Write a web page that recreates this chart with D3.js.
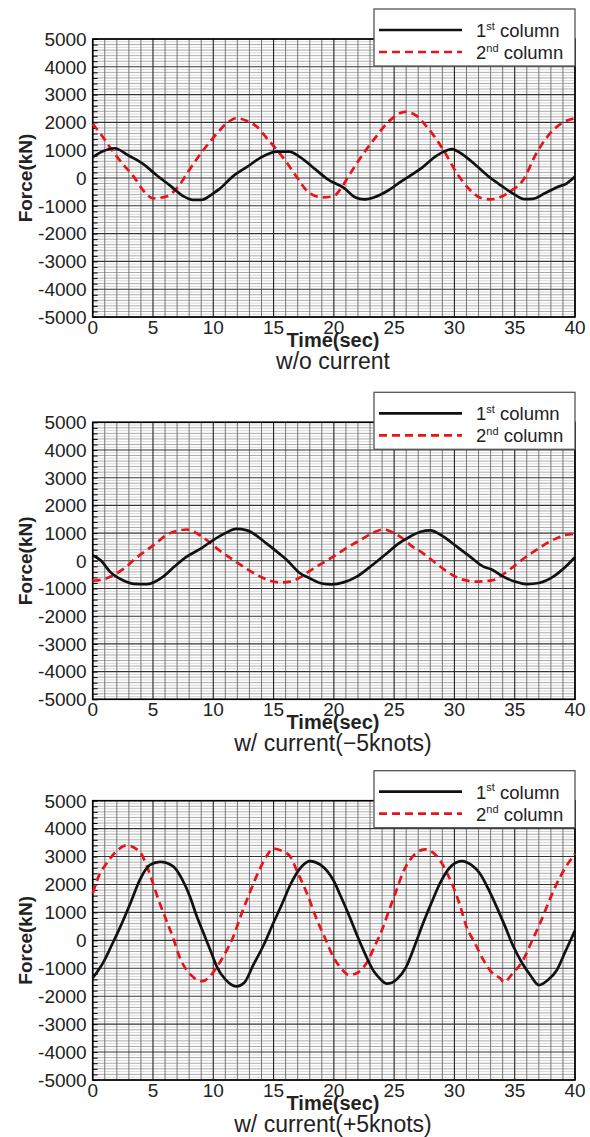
<!DOCTYPE html>
<html><head><meta charset="utf-8">
<script src="https://cdn.jsdelivr.net/npm/d3@7"></script>
<style>body{margin:0;background:#fff}svg{display:block}</style>
</head><body>
<svg id="c" width="590" height="1137"></svg>
<script>
// ---------- data ----------
const timeDomain = [0, 40];
const forceDomain = [-5000, 5000];
const xTickValues = [0, 5, 10, 15, 20, 25, 30, 35, 40];
const yTickValues = [-5000, -4000, -3000, -2000, -1000, 0, 1000, 2000, 3000, 4000, 5000];
const seriesNames = ["1st column", "2nd column"];
const subtitles = ["w/o current", "w/ current(\u22125knots)", "w/ current(+5knots)"];
const xAxisTitle = "Time(sec)";
const yAxisTitle = "Force(kN)";

// panel 1: w/o current  [time, force]
const col1NoCurrent = [[0,750],[0.8,950],[1.8,1070],[3,800],[4.2,500],[5.3,100],[6.5,-300],[7.5,-650],[8.3,-790],[9,-790],[10,-550],[10.5,-400],[11.6,50],[12.8,400],[14,750],[15.3,950],[16.3,950],[17.2,750],[18.5,300],[19.5,-50],[20.8,-350],[21.8,-700],[22.5,-770],[23.3,-700],[24.5,-450],[25.5,-150],[27.4,400],[28.5,800],[29.4,1000],[29.8,1040],[30.5,900],[31.8,450],[33,0],[34,-310],[35,-600],[35.8,-760],[36.5,-750],[37.5,-550],[38.5,-330],[39.3,-200],[40,50]];
const col2NoCurrent = [[0,1950],[0.8,1500],[1.6,1000],[2.5,500],[3.4,50],[4.2,-450],[5,-730],[6,-680],[7.2,-250],[7.8,150],[9,900],[10.3,1600],[11.2,2000],[11.9,2150],[12.8,2050],[13.6,1850],[14.5,1400],[15.3,1000],[16.1,550],[16.9,50],[18,-550],[19.1,-700],[20,-650],[20.5,-430],[21.2,50],[21.9,530],[23.3,1370],[24.7,2090],[25.9,2380],[26.8,2250],[27.7,1850],[29.1,1000],[30.2,170],[31.3,-430],[32.2,-720],[33,-770],[34,-650],[34.6,-490],[35.7,-70],[36.8,890],[38.2,1730],[39,2000],[40,2150]];

// panel 2: w/ current (-5 knots)
const col1Minus5 = [[0,200],[0.7,0],[1.43,-390],[2.5,-700],[3.5,-830],[4.5,-840],[5.85,-570],[6.8,-200],[7.8,150],[9,450],[10,750],[11,1000],[11.9,1150],[12.8,1100],[14.4,630],[15.5,250],[16.1,30],[17.2,-450],[18,-630],[19,-820],[19.8,-850],[20.8,-780],[21.9,-570],[23.2,-150],[24.4,270],[25.3,600],[26.3,870],[27.2,1050],[28,1100],[29,900],[30.2,510],[31.3,150],[32.4,-210],[33,-300],[34.05,-570],[35,-750],[36,-840],[37,-800],[38.2,-570],[39,-300],[40,130]];
const col2Minus5 = [[0,-720],[1.16,-630],[2,-450],[2.8,-210],[3.6,100],[4.5,390],[5.3,650],[6.1,930],[7,1080],[7.8,1130],[8.6,1000],[9.45,750],[10.5,380],[11.66,30],[12.8,-300],[13.9,-570],[14.7,-720],[15.5,-780],[16.4,-750],[17.2,-600],[17.7,-450],[18.8,-150],[19.95,150],[21,450],[22.2,750],[23.2,1000],[24.1,1130],[25,1000],[25.5,870],[26.4,550],[27.4,270],[28.5,-100],[29.6,-450],[30.7,-680],[31.8,-750],[33.2,-700],[34,-500],[34.9,-210],[35.8,100],[36.8,390],[37.6,620],[38.45,810],[39.2,930],[40,980]];

// panel 3: w/ current (+5 knots)
const col1Plus5 = [[0,-1350],[0.9,-770],[1.6,-150],[2.3,490],[3.1,1300],[3.9,2160],[4.75,2700],[5.6,2810],[6.7,2640],[7.4,2200],[8.07,1560],[8.6,900],[9.2,250],[9.8,-400],[10.3,-950],[11,-1400],[11.9,-1650],[12.6,-1500],[13.3,-900],[14.2,-150],[14.97,610],[15.7,1300],[16.4,2000],[17.2,2580],[18,2840],[18.9,2700],[19.95,2160],[20.6,1550],[21.3,850],[22,100],[22.7,-590],[23.3,-1100],[23.8,-1360],[24.4,-1550],[25.2,-1400],[26,-950],[26.7,-200],[27.4,610],[28.1,1350],[28.8,2040],[29.6,2600],[30.6,2840],[31.4,2700],[32.1,2400],[32.8,1850],[33.5,1200],[34.2,500],[34.9,-230],[35.6,-800],[36.3,-1250],[37,-1600],[37.8,-1400],[38.5,-1060],[39.2,-400],[40,350]];
const col2Plus5 = [[0,1680],[0.5,2300],[1.16,2760],[2,3200],[2.8,3400],[3.9,3170],[4.5,2650],[5,2040],[5.5,1400],[6.1,730],[6.7,50],[7.2,-590],[8.3,-1300],[9.1,-1460],[9.7,-1300],[10.3,-950],[11,-450],[11.66,130],[12.3,900],[13,1680],[13.8,2500],[14.4,3000],[15,3290],[15.7,3200],[16.4,2990],[16.9,2520],[17.8,1650],[18.6,730],[19.3,50],[19.95,-590],[20.6,-1000],[21.3,-1240],[22,-1150],[22.7,-820],[23.4,-200],[24.1,490],[24.6,1100],[25.2,1800],[25.7,2400],[26.3,2870],[26.9,3150],[27.55,3260],[28.2,3150],[28.8,2870],[29.4,2400],[29.9,1920],[30.5,1200],[31,490],[31.7,-100],[32.4,-700],[33.1,-1150],[33.8,-1360],[34.1,-1490],[34.8,-1200],[35.7,-700],[36.4,-50],[37.1,610],[37.8,1350],[38.5,2040],[39.2,2600],[40,3100]];

const panelData = [[col1NoCurrent, col2NoCurrent],[col1Minus5, col2Minus5],[col1Plus5, col2Plus5]];

// ---------- layout ----------
const FONT = "'Liberation Sans', Arial, sans-serif";
const left = 92.7, right = 575;
const panelTops = [39, 422.3, 800.7];
const panelBottoms = [317, 699.3, 1080];
const svg = d3.select("#c");

panelData.forEach((series, i) => {
  const top = panelTops[i], bottom = panelBottoms[i];
  const x = d3.scaleLinear().domain(timeDomain).range([left, right]);
  const y = d3.scaleLinear().domain(forceDomain).range([bottom, top]);
  const g = svg.append("g");

  // horizontal minor grid
  const hMinor = d3.range(forceDomain[0], forceDomain[1] + 1, 100);
  g.selectAll(".hm").data(hMinor.filter(v => v % 1000 !== 0)).enter().append("line")
    .attr("x1", left).attr("x2", right).attr("y1", d => y(d)).attr("y2", d => y(d))
    .attr("stroke", d => (d % 200 === 0) ? "#a0a0a0" : "#d4d4d4").attr("stroke-width", 0.9);
  // vertical minor grid
  g.selectAll(".vm").data(d3.range(1, 40).filter(v => v % 5 !== 0)).enter().append("line")
    .attr("y1", top).attr("y2", bottom).attr("x1", d => x(d)).attr("x2", d => x(d))
    .attr("stroke", "#6a6a6a").attr("stroke-width", 0.9);
  // horizontal major
  g.selectAll(".hM").data(yTickValues).enter().append("line")
    .attr("x1", left).attr("x2", right).attr("y1", d => y(d)).attr("y2", d => y(d))
    .attr("stroke", "#333").attr("stroke-width", 1.1);
  // vertical major
  g.selectAll(".vM").data(xTickValues).enter().append("line")
    .attr("y1", top).attr("y2", bottom).attr("x1", d => x(d)).attr("x2", d => x(d))
    .attr("stroke", "#222").attr("stroke-width", 1.1);

  // left axis ticks (inward)
  const yAxis = d3.axisLeft(y).tickValues(d3.range(-5000, 5001, 200)).tickSize(-5).tickFormat("");
  g.append("g").attr("transform", `translate(${left},0)`).call(yAxis)
    .call(a => a.select(".domain").remove())
    .call(a => a.selectAll("line").attr("stroke", "#000").attr("stroke-width", 1));

  // frame
  g.append("rect").attr("x", left).attr("y", top).attr("width", right - left).attr("height", bottom - top)
    .attr("fill", "none").attr("stroke", "#000").attr("stroke-width", 1.6);

  // y tick labels
  g.selectAll(".yl").data(yTickValues).enter().append("text")
    .attr("x", left - 6).attr("y", d => y(d)).attr("dy", "0.36em")
    .attr("text-anchor", "end").attr("font-family", FONT).attr("font-size", 19).attr("fill", "#222")
    .text(d => d);
  // x tick labels
  g.selectAll(".xl").data(xTickValues).enter().append("text")
    .attr("x", d => x(d)).attr("y", bottom + 16.5)
    .attr("text-anchor", "middle").attr("font-family", FONT).attr("font-size", 19).attr("fill", "#222")
    .text(d => d);

  // series
  const line = d3.line().x(d => x(d[0])).y(d => y(d[1])).curve(d3.curveMonotoneX);
  g.append("path").datum(series[1]).attr("d", line).attr("fill", "none")
    .attr("stroke", "#e8141b").attr("stroke-width", 2.7).attr("stroke-dasharray", "8,5");
  g.append("path").datum(series[0]).attr("d", line).attr("fill", "none")
    .attr("stroke", "#111").attr("stroke-width", 2.7);

  // axis titles
  g.append("text").attr("transform", `translate(${left - 61},${(top + bottom) / 2}) rotate(-90)`)
    .attr("text-anchor", "middle").attr("font-family", FONT).attr("font-size", 19).attr("font-weight", "bold")
    .attr("fill", "#222").text(yAxisTitle);
  g.append("text").attr("x", 333).attr("y", bottom + 29.5).attr("text-anchor", "middle")
    .attr("font-family", FONT).attr("font-size", 20).attr("font-weight", "bold").attr("fill", "#222").text(xAxisTitle);
  g.append("text").attr("x", 333).attr("y", bottom + 52).attr("text-anchor", "middle")
    .attr("font-family", FONT).attr("font-size", 23).attr("fill", "#222").text(subtitles[i]);

  // legend
  const lt = top - 30;
  const lg = g.append("g");
  lg.append("rect").attr("x", 374).attr("y", lt).attr("width", 201).attr("height", 57)
    .attr("fill", "#fff").attr("stroke", "#555").attr("stroke-width", 1.3);
  const sups = ["st", "nd"];
  [0, 1].forEach(k => {
    const ly = lt + 21 + k * 22;
    lg.append("line").attr("x1", 379).attr("x2", 462).attr("y1", ly).attr("y2", ly)
      .attr("stroke", k === 0 ? "#111" : "#e8141b").attr("stroke-width", 2.7)
      .attr("stroke-dasharray", k === 0 ? null : "8,5");
    const t = lg.append("text").attr("x", 476).attr("y", ly + 7)
      .attr("font-family", FONT).attr("font-size", 18.5).attr("fill", "#222");
    t.append("tspan").text(seriesNames[k].charAt(0));
    t.append("tspan").attr("font-size", 11).attr("dy", -7.5).text(sups[k]);
    t.append("tspan").attr("dy", 7.5).text(seriesNames[k].slice(3));
  });
});
</script>
</body></html>
